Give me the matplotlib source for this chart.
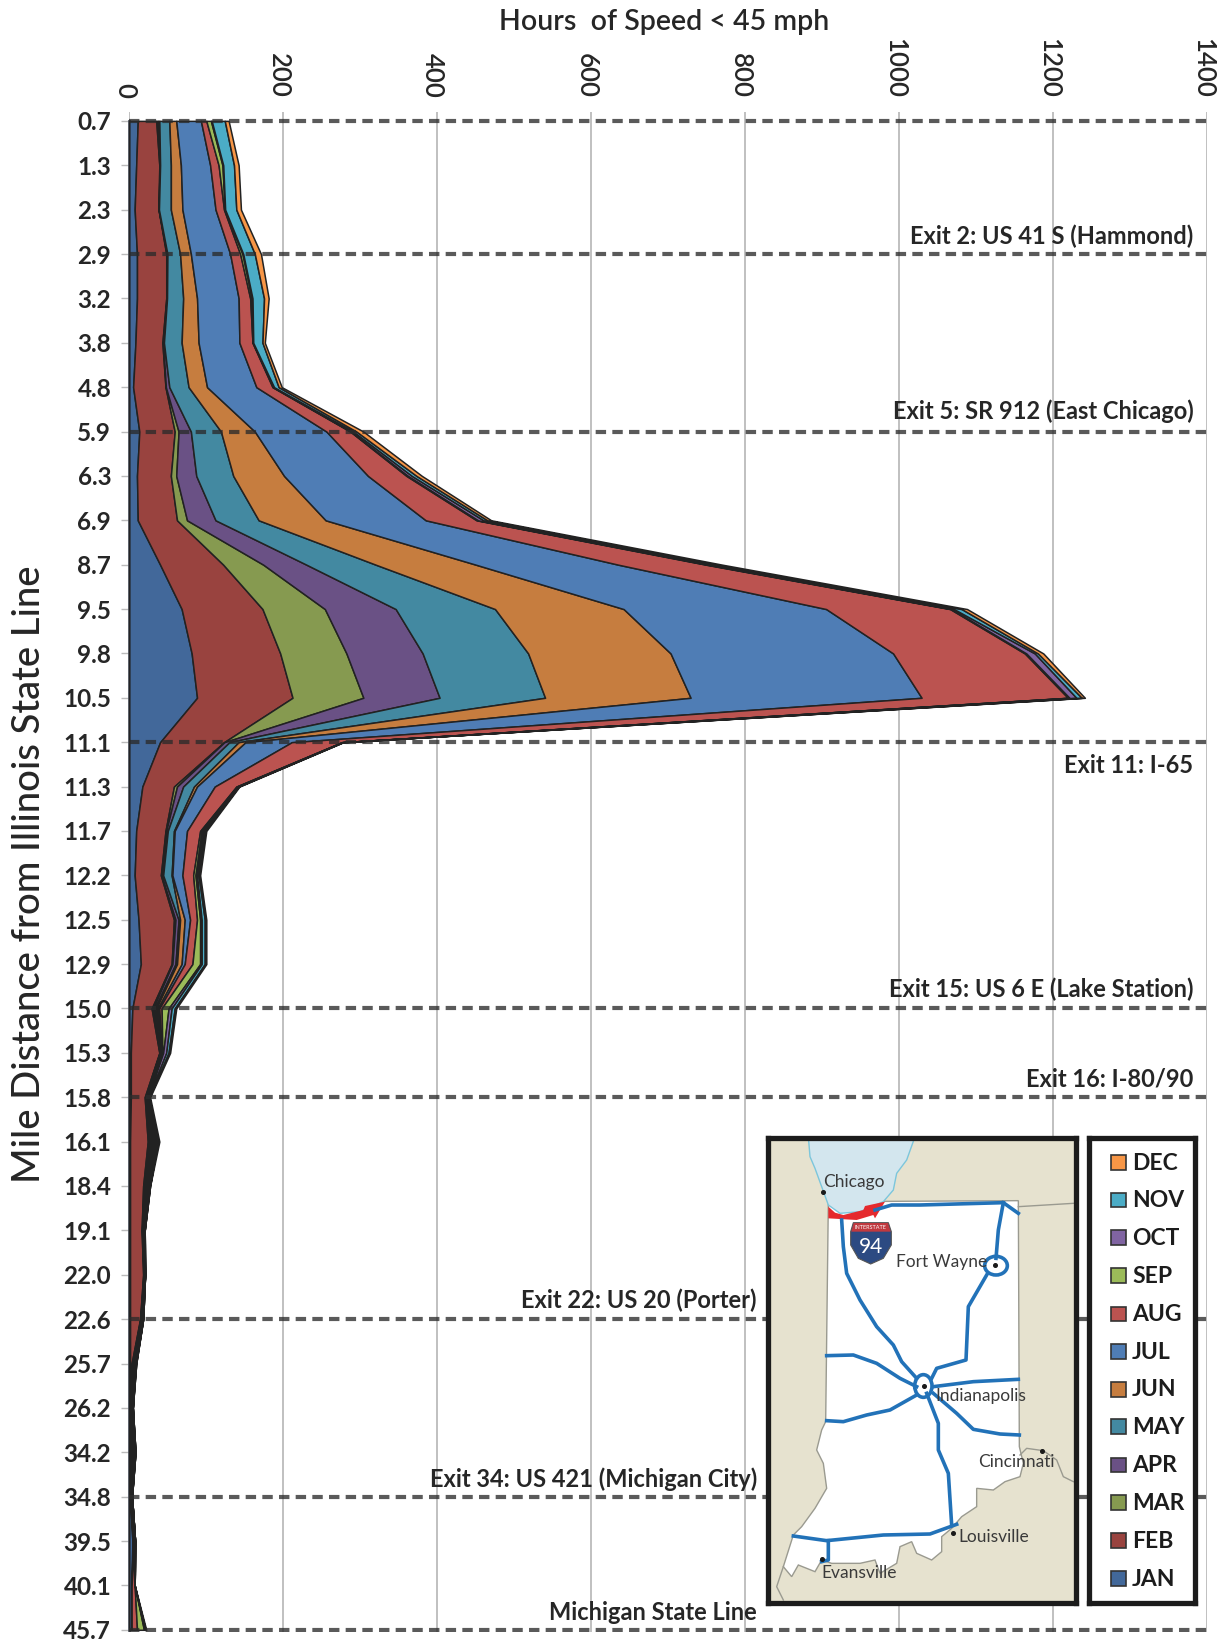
import numpy as np
import matplotlib
matplotlib.use("Agg")
import matplotlib.pyplot as plt
from matplotlib.patches import Polygon, Rectangle, Ellipse
from matplotlib.transforms import ScaledTranslation

plt.rcParams['font.family'] = ['Lato', 'DejaVu Sans']

W, H = 1225, 1648

# mile markers, top to bottom
miles = ["0.7", "1.3", "2.3", "2.9", "3.2", "3.8", "4.8", "5.9", "6.3", "6.9", "8.7", "9.5",
         "9.8", "10.5", "11.1", "11.3", "11.7", "12.2", "12.5", "12.9", "15.0", "15.3", "15.8",
         "16.1", "18.4", "19.1", "22.0", "22.6", "25.7", "26.2", "34.2", "34.8", "39.5", "40.1", "45.7"]

# hours of speed < 45 mph per month
jan = [11, 9, 7, 10, 10, 8, 5, 13, 10, 11, 40, 68, 81, 88, 40, 17, 9, 7, 12, 15, 4, 2, 2, 1, 1, 1, 1, 1, 1, 1, 1, 1, 4, 3, 3]
feb = [24, 30, 31, 38, 38, 35, 42, 46, 44, 51, 82, 105, 115, 124, 83, 41, 38, 34, 46, 40, 25, 37, 18, 23, 17, 15, 17, 13, 2, 1, 1, .5, .5, 0, 0]
mar = [2, .5, 0, 1, .5, 1, .5, 5, 7, 13, 52, 81, 86, 92, .5, 4, 1, 1, 2, 1, 2, .5, 1, 2, 1, .5, .5, .5, 1, .5, 1, .5, .5, 0, 0]
apr = [2, .5, .5, .5, .5, 1, 4.5, 16, 26, 37, 56, 92, 99, 99, 6.5, 8, 2, 2, 4, 4, 2, .5, 1, 2, 1, .5, .5, .5, 1, .5, 1, .5, .5, 0, 0]
may = [13, 14, 15.5, 16.5, 21, 23, 25, 39, 48, 56, 90, 129, 137, 137, 12, 14, 8, 11, 2, 2, 2, .5, .5, 2, 1, .5, .5, .5, 1, .5, 1, .5, .5, 0, 0]
jun = [9, 13, 15, 14, 18, 22, 24, 44, 66, 87, 130, 167, 185, 189, 9, 4, 1, 1, 6, 6, 2, .5, .5, 1, 1, .5, .5, .5, .5, .5, 1, .5, .5, 0, 0]
jul = [32, 38, 43, 51, 54, 53, 64, 93, 109, 130, 185, 263, 289, 300, 60, 23, 16, 13, 7, 4, 2, 1, .5, 1, 1, .5, .5, .5, .5, .5, .5, 0, .5, 0, 0]
aug = [7, 11, 11, 13, 15, 17, 21, 31, 50, 66, 114, 161, 171, 190, 65, 28, 17, 14, 9, 10, 3, 1, .5, 2, 1, .5, 0, .5, .5, 0, .5, 0, .5, 4, 7]
sep = [6, 5, 1, 3, 2, .5, 1, 1, 2, 2, 3, 2, 2, 2, .5, 1, 2, 3, 4, 10, 9, 1, .5, 1, 1, .5, 0, .5, .5, 0, .5, 0, 0, 0, 9]
oct_ = [1, 1, .5, 1, 1, .5, 1, 3, 5, 7, 5, 3, 11, 9, .5, 1, 2, 2, 2, 2, 4, 4, .5, 1, 1, .5, 0, .5, .5, 0, .5, 0, 0, 0, 1]
nov = [17, 14, 14.5, 15, 15, 12, 6, 4, 6, 5, 5, 10, 4, 7, .5, 1, 2, 2, 4, 4, 4, 3, 1, 1, 1, 0, 0, 0, .5, 0, 0, 0, 0, 0, 1]
dec = [5, 6, 6, 8, 6, 3, 4, 9, 7, 5, 8, 7, 7, 4, .5, 1, 2, 2, 2, 2, 2, 2, 1, 2, 0, 0, 0, 0, 0, 0, 0, 0, 0, 0, 1]

months = ["JAN", "FEB", "MAR", "APR", "MAY", "JUN", "JUL", "AUG", "SEP", "OCT", "NOV", "DEC"]
colors = ["#42689A", "#99433F", "#869A50", "#6A5185", "#4389A1", "#C67D3F",
          "#4F7DB5", "#BB5350", "#9BBB59", "#8064A2", "#4BACC6", "#F79646"]
series = [jan, feb, mar, apr, may, jun, jul, aug, sep, oct_, nov, dec]

# dashed rows and their labels
exit_rows = ["0.7", "2.9", "5.9", "11.1", "15.0", "15.8", "22.6", "34.8", "45.7"]
exit_labels = ["Exit 2: US 41 S (Hammond)", "Exit 5: SR 912 (East Chicago)", "Exit 11: I-65",
               "Exit 15: US 6 E (Lake Station)", "Exit 16: I-80/90", "Exit 22: US 20 (Porter)",
               "Exit 34: US 421 (Michigan City)", "Michigan State Line"]
exit_label_hours = [1382, 1382, 1381, 1382, 1382, 815, 815, 815]
exit_label_rows = [2.61, 6.54, 14.52, 19.57, 21.6, 26.57, 30.6, 33.6]

fig = plt.figure(figsize=(W / 100, H / 100), dpi=100)

# row -0.2 at y=112, row 34 at y=1630
ax = fig.add_axes([129.3 / W, 1 - 1632 / H, (1207.3 - 129.3) / W, (1632 - 112) / H])
y = np.arange(len(miles))
bottom = np.zeros(len(miles))
for vals, c in zip(series, colors):
    top = bottom + np.array(vals, dtype=float)
    ax.fill_betweenx(y, bottom, top, facecolor=c, edgecolor="#222222", linewidth=1.1, zorder=3)
    bottom = top

ax.set_xlim(0, 1400)
ax.set_ylim(34.05, -0.2)
ax.set_xticks(np.arange(0, 1401, 200))
ax.xaxis.tick_top()
ax.set_yticks(y, miles)
ax.grid(axis="x", color="#b5b5b5", linewidth=1.2, zorder=0)
ax.set_axisbelow(True)
ax.tick_params(axis="x", length=0, pad=10, labelsize=18.5, labelrotation=-90, labelcolor="#262626")
ax.tick_params(axis="y", length=6, width=1, color="#bbbbbb", pad=7, labelsize=17.5, labelcolor="#262626")
shift = ScaledTranslation(-3.6 / 72, 0, fig.dpi_scale_trans)
for lab in ax.get_xticklabels():
    lab.set_transform(lab.get_transform() + shift)
    lab.set_fontweight("semibold")
for lab in ax.get_yticklabels():
    lab.set_fontweight("bold")
for s in ["top", "right", "bottom"]:
    ax.spines[s].set_visible(False)
ax.spines["left"].set_color("#4a4f58")
ax.spines["left"].set_linewidth(2)
ax.spines["left"].set_bounds(0, 34)

for r in exit_rows:
    ax.axhline(miles.index(r), color="#2b2b2b", alpha=0.78, linewidth=3,
               linestyle=(0, (2.5, 1.5)), zorder=5, dash_capstyle="butt")

for t, hx, ry in zip(exit_labels, exit_label_hours, exit_label_rows):
    bb = dict(facecolor="white", edgecolor="none", pad=2) if t.startswith("Exit 11") else None
    ax.text(hx, ry, t, ha="right", va="center", fontsize=17, fontweight="bold",
            color="#262626", zorder=6, bbox=bb)

fig.text(664 / W, 1 - 22 / H, "Hours  of Speed < 45 mph", ha="center", va="center",
         fontsize=20.5, fontweight="semibold", color="#262626")
fig.text(30 / W, 1 - 874 / H, "Mile Distance from Illinois State Line", rotation=90, ha="center",
         va="center", fontsize=27.5, fontweight="medium", color="#262626")

# inset map, drawn in its own pixel grid
def box_axes(x0, x1):
    b = fig.add_axes([(760 + x0 / 3) / W, 1 - (1130 + 1418 / 3) / H, (x1 - x0) / 3 / W, (1418 - 25) / 3 / H])
    b.set_xlim(x0, x1)
    b.set_ylim(1418, 25)
    b.set_xticks([])
    b.set_yticks([])
    for s in b.spines.values():
        s.set_linewidth(3.8)
        s.set_color("#1c1c1c")
    return b

indiana = [(205, 215), (775, 212), (778, 950), (790, 1000), (780, 1040), (735, 1055), (700, 1080), (650, 1075), (650, 1130),
           (605, 1160), (575, 1195), (545, 1220), (545, 1265), (515, 1290), (470, 1270), (455, 1235), (420, 1250),
           (410, 1300), (360, 1330), (345, 1290), (300, 1300), (215, 1300), (185, 1290), (165, 1325), (115, 1305),
           (95, 1340), (70, 1310), (100, 1215), (125, 1190), (165, 1135), (200, 1075), (190, 1000), (170, 960),
           (185, 900), (197, 875)]
lake = [(145, 20), (465, 20), (440, 90), (410, 130), (400, 180), (370, 215), (300, 245), (240, 250), (205, 225),
        (185, 170), (165, 115), (150, 80)]
i94_red = [(205, 230), (205, 265), (290, 270), (340, 255), (345, 265), (375, 215), (315, 228), (310, 240),
           (250, 255), (225, 248)]
state_lines = [[(775, 230), (940, 220)],
               [(780, 975), (800, 955), (850, 962), (890, 990), (910, 1040), (940, 1055)],
               [(70, 1310), (50, 1370), (70, 1410)]]
roads = [[(245, 270), (250, 350), (260, 430), (300, 510), (350, 590), (400, 645), (425, 695), (470, 745)],
         [(345, 240), (395, 225), (480, 225), (730, 218), (775, 250)],
         [(730, 218), (715, 300), (708, 385)],
         [(680, 435), (625, 530), (618, 690), (530, 715), (515, 745)],
         [(200, 677), (280, 675), (350, 700), (420, 745), (470, 770)],
         [(520, 770), (640, 755), (775, 748)],
         [(200, 872), (250, 875), (320, 855), (390, 840), (470, 795)],
         [(500, 790), (535, 880), (535, 960), (565, 1030), (575, 1185)],
         [(520, 790), (590, 850), (640, 898), (720, 912), (778, 915)],
         [(100, 1218), (200, 1232), (370, 1215), (510, 1212), (590, 1183)],
         [(205, 1232), (205, 1290), (185, 1295)]]
cities = [("Chicago", 188, 186, 190, 155, "left"), ("Fort Wayne", 705, 405, 682, 395, "right"),
          ("Indianapolis", 493, 768, 525, 798, "left"), ("Cincinnati", 845, 962, 655, 997, "left"),
          ("Louisville", 578, 1210, 595, 1222, "left"), ("Evansville", 187, 1287, 185, 1330, "left")]

mp = box_axes(25, 948)
mp.set_facecolor("#E6E2CF")
mp.add_patch(Polygon(indiana, closed=True, facecolor="white", edgecolor="#9a9a90", linewidth=1))
mp.add_patch(Polygon(lake, closed=True, facecolor="#D3E6EE", edgecolor="#7CC6DC", linewidth=1))
for pts in state_lines:
    mp.plot(*zip(*pts), color="#9a9a90", linewidth=1)
for pts in roads:
    mp.plot(*zip(*pts), color="#2272B8", linewidth=2.6, solid_joinstyle="round")
mp.add_patch(Ellipse((708, 407), 68, 56, fill=False, edgecolor="#2272B8", linewidth=2.6))
mp.add_patch(Ellipse((490, 768), 52, 68, fill=False, edgecolor="#2272B8", linewidth=2.6))
mp.add_patch(Polygon(i94_red, closed=True, facecolor="#E52A2D", edgecolor="none"))
# interstate shield
mp.add_patch(Polygon([(272, 305), (280, 278), (385, 278), (394, 305), (394, 345), (370, 385), (332, 402), (295, 385), (272, 345)],
                     closed=True, facecolor="#2C4A82", edgecolor="#555555", linewidth=0.8))
mp.add_patch(Polygon([(274, 305), (281, 279), (384, 279), (392, 305)], closed=True, facecolor="#C0393F", edgecolor="none"))
mp.text(332, 293, "INTERSTATE", color="white", fontsize=4, ha="center", va="center")
mp.text(332, 352, "94", color="white", fontsize=15, ha="center", va="center")
for name, dx, dy, tx, ty, ha in cities:
    mp.plot(dx, dy, "o", color="#1a1a1a", markersize=2.6)
    mp.text(tx, ty, name, fontsize=12.5, color="#3a3a3a", ha=ha, va="center")
mp.set_xlim(25, 948)
mp.set_ylim(1418, 25)

lg = box_axes(988, 1305)
lg.set_facecolor("white")
rows_px = [1345, 1232, 1118, 1005, 890, 778, 665, 552, 437, 323, 210, 97]
for name, c, py in zip(months, colors, rows_px):
    lg.add_patch(Rectangle((1052, py - 22), 45, 44, facecolor=c, edgecolor="#333333", linewidth=1.2))
    lg.text(1116, py + 2, name, fontsize=16.5, fontweight="bold", color="#1c1c1c", ha="left", va="center")

fig.savefig("out.png", dpi=100)
